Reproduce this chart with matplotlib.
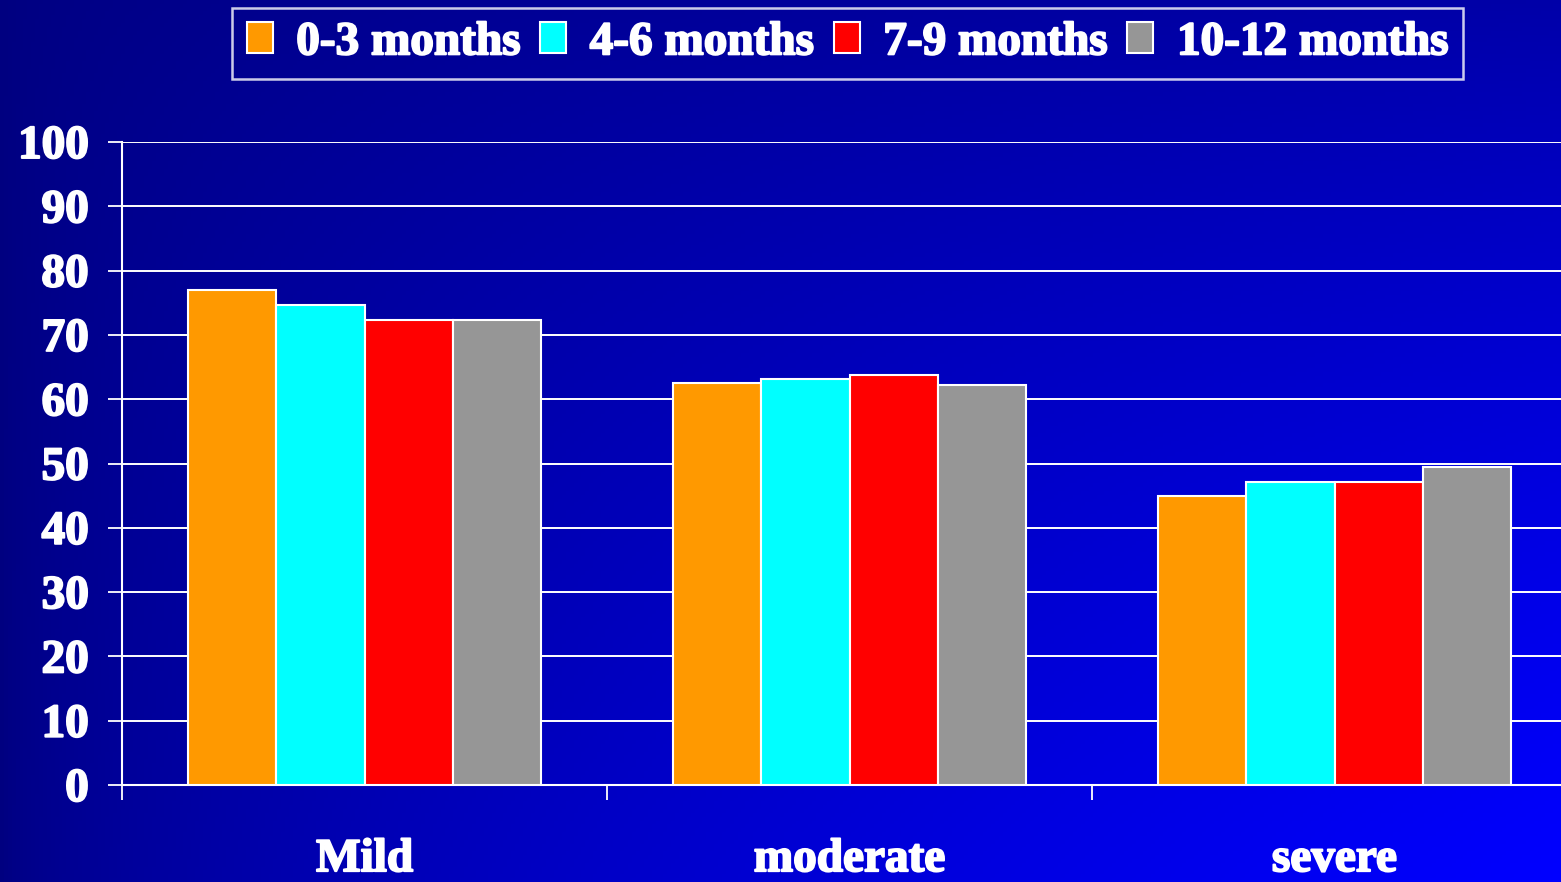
import numpy as np
import matplotlib
matplotlib.use("Agg")
import matplotlib.pyplot as plt
import matplotlib.patheffects as pe
from matplotlib.colors import LinearSegmentedColormap

categories = ["Mild", "moderate", "severe"]
periods = ["0-3 months", "4-6 months", "7-9 months", "10-12 months"]
values = {
    "0-3 months": [77.0, 62.5, 45.0],
    "4-6 months": [74.6, 63.1, 47.2],
    "7-9 months": [72.3, 63.7, 47.2],
    "10-12 months": [72.3, 62.2, 49.4],
}
colors = ["#FF9900", "#00FFFF", "#FF0000", "#969696"]
yticks = list(range(0, 101, 10))

plt.rcParams["font.family"] = ["Liberation Serif", "DejaVu Serif"]
plt.rcParams["font.weight"] = "bold"
plt.rcParams["font.size"] = 34
bold = [pe.withStroke(linewidth=1.4, foreground="white")]

W, H = 1561, 882
fig = plt.figure(figsize=(W / 100, H / 100), dpi=100)

# corner-to-corner blue gradient behind everything
bg = fig.add_axes([0, 0, 1, 1], zorder=-10)
gx, gy = np.meshgrid(np.linspace(0, 1, 400), np.linspace(0, 1, 230))
shade = (gx * (0.15 + 0.85 * gy)) ** 0.6
cmap = LinearSegmentedColormap.from_list("navy", ["#000080", "#0000FF"])
bg.imshow(shade, cmap=cmap, aspect="auto", origin="upper", extent=[0, 1, 0, 1],
          vmin=0, vmax=1)
bg.set_axis_off()

ax = fig.add_axes([122 / W, 97 / H, 1455 / W, 643 / H])
ax.set_facecolor("none")

x = np.arange(len(categories))
width = 0.182
for i, (name, col) in enumerate(zip(periods, colors)):
    offs = (i - 1.5) * width
    ax.bar(x + offs, values[name], width, color=col, edgecolor="white",
           linewidth=1.5, label=name, zorder=3)

ax.set_xlim(-0.5, 2.5)
ax.set_ylim(0, 100)
ax.set_yticks(yticks)
ax.yaxis.grid(True, color="white", linewidth=1.4, zorder=0)
ax.set_axisbelow(True)

ax.set_xticks(x)
ax.set_xticklabels(categories)
ax.set_xticks([-0.5, 0.5, 1.5, 2.5], minor=True)
ax.tick_params(axis="x", which="major", length=0, pad=39, colors="white")
ax.tick_params(axis="x", which="minor", length=11, width=1.3, color="white",
               direction="out")
ax.tick_params(axis="y", length=10, width=1.3, color="white", pad=14,
               labelcolor="white")
for lab in ax.get_xticklabels() + ax.get_yticklabels():
    lab.set_path_effects(bold)

for side in ("top", "right"):
    ax.spines[side].set_visible(False)
for side in ("left", "bottom"):
    ax.spines[side].set_color("white")
    ax.spines[side].set_linewidth(1.5)

leg = fig.legend(loc="upper center", bbox_to_anchor=(847.5 / W, 1 - 8 / H),
                 ncol=4, frameon=True, fancybox=False, handlelength=0.55,
                 handleheight=0.64, handletextpad=0.5, columnspacing=0.42,
                 borderpad=0.3, borderaxespad=0)
leg.get_frame().set_facecolor("none")
leg.get_frame().set_edgecolor("white")
leg.get_frame().set_linewidth(1.8)
for t in leg.get_texts():
    t.set_color("white")
    t.set_path_effects(bold)

fig.savefig("out.png", dpi=100)
